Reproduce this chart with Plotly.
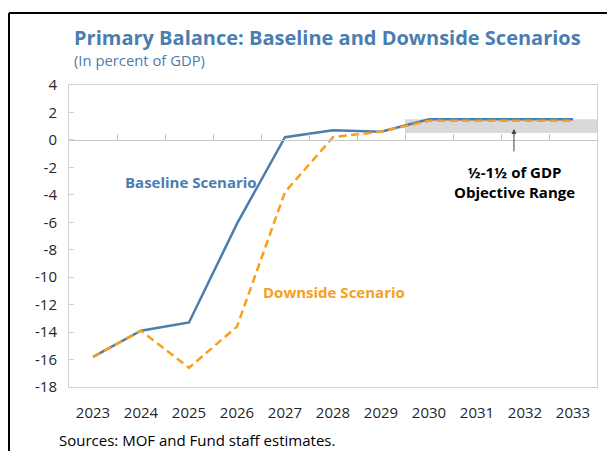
import plotly.graph_objects as go

# Fiscal years on the category axis
years = ["2023", "2024", "2025", "2026", "2027", "2028", "2029", "2030", "2031", "2032", "2033"]

# Primary balance, percent of GDP
baseline = [-15.8, -13.9, -13.3, -6.1, 0.2, 0.7, 0.6, 1.5, 1.5, 1.5, 1.5]
downside = [-15.8, -13.9, -16.6, -13.6, -3.8, 0.2, 0.6, 1.4, 1.4, 1.4, 1.4]

# Objective range (percent of GDP)
objective_low = 0.5
objective_high = 1.5

# Y axis ticks
y_ticks = [4, 2, 0, -2, -4, -6, -8, -10, -12, -14, -16, -18]

BLUE = "#4a7db0"
ORANGE = "#f7a01c"
FONT = "Open Sans"

W, H = 607, 451
ML, MR, MT, MB = 69, 10, 85, 64
PW, PH = W - ML - MR, H - MT - MB


def px(x):
    return (x - ML) / PW


def py(y):
    return (H - MB - y) / PH


fig = go.Figure()

fig.add_trace(go.Scatter(
    x=years, y=baseline, mode="lines", name="Baseline Scenario",
    line=dict(color=BLUE, width=2.5), showlegend=False, hoverinfo="skip",
))
fig.add_trace(go.Scatter(
    x=years, y=downside, mode="lines", name="Downside Scenario",
    line=dict(color=ORANGE, width=2.5, dash="8px,4.5px"), showlegend=False, hoverinfo="skip",
))
# invisible carrier for the tick axis drawn along zero
fig.add_trace(go.Scatter(
    x=[0], y=[0], xaxis="x2", mode="markers", marker=dict(opacity=0),
    showlegend=False, hoverinfo="skip",
))

# shaded objective band from 2030 onward
fig.add_shape(type="rect", xref="x", yref="y",
              x0=6.5, x1=10.5, y0=objective_low, y1=objective_high,
              fillcolor="#d9d9d9", line=dict(width=0), layer="below")

# outer frame
frame_x = px(9)
frame_y = py(13)
fig.add_shape(type="line", xref="paper", yref="paper",
              x0=frame_x, x1=px(W + 5), y0=frame_y, y1=frame_y,
              line=dict(color="black", width=2))
fig.add_shape(type="line", xref="paper", yref="paper",
              x0=frame_x, x1=frame_x, y0=frame_y, y1=py(H + 5),
              line=dict(color="black", width=2))

annotations = [
    dict(text="<b>Primary Balance: Baseline and Downside Scenarios</b>",
         x=px(72), y=py(37), xanchor="left", yanchor="middle",
         font=dict(family=FONT, size=20, color=BLUE)),
    dict(text="(In percent of GDP)",
         x=px(72), y=py(60), xanchor="left", yanchor="middle",
         font=dict(family=FONT, size=14.8, color=BLUE)),
    dict(text="<b>Baseline Scenario</b>",
         x=px(123), y=py(182), xanchor="left", yanchor="middle",
         font=dict(family=FONT, size=15, color=BLUE)),
    dict(text="<b>Downside Scenario</b>",
         x=px(261), y=py(292), xanchor="left", yanchor="middle",
         font=dict(family=FONT, size=15, color=ORANGE)),
    dict(text="<b>½-1½ of GDP<br>Objective Range</b>",
         x=px(514), y=py(182), xanchor="center", yanchor="middle",
         font=dict(family=FONT, size=15, color="black")),
    dict(text="Sources: MOF and Fund staff estimates.",
         x=px(57), y=py(440), xanchor="left", yanchor="middle",
         font=dict(family=FONT, size=15, color="black")),
]
for a in annotations:
    a.update(xref="paper", yref="paper", showarrow=False)

# arrow pointing at the objective band
annotations.append(dict(
    x=8.77, y=0.8, xref="x", yref="y",
    ax=8.77, ay=-0.95, axref="x", ayref="y",
    text="", showarrow=True, arrowhead=2, arrowsize=1, arrowwidth=1,
    arrowcolor="#404040",
))

fig.update_layout(
    width=W, height=H,
    margin=dict(l=ML, r=MR, t=MT, b=MB),
    paper_bgcolor="white", plot_bgcolor="white",
    font=dict(family=FONT, size=14, color="#262626"),
    annotations=annotations,
    xaxis=dict(
        type="category", range=[-0.5, 10.5],
        showgrid=False, zeroline=False,
        showline=True, linecolor="#d0d0d0", linewidth=1, mirror=True,
        ticks="", ticklabelstandoff=12,
        tickfont=dict(family=FONT, size=15, color="#262626"),
    ),
    xaxis2=dict(
        overlaying="x", anchor="free", position=18 / 22,
        range=[-0.5, 10.5], showgrid=False, zeroline=False,
        showline=True, linecolor="#c8c8c8", linewidth=1,
        ticks="inside", ticklen=6, tickcolor="#c8c8c8",
        tickvals=[i + 0.5 for i in range(10)], showticklabels=False,
    ),
    yaxis=dict(
        range=[-18, 4], tickvals=y_ticks, ticktext=[str(v) for v in y_ticks],
        showgrid=False, zeroline=False,
        showline=True, linecolor="#d0d0d0", linewidth=1, mirror=True,
        ticks="inside", ticklen=5, tickcolor="#d0d0d0",
        ticklabelstandoff=8,
        tickfont=dict(family=FONT, size=15, color="#262626"),
    ),
)

fig.write_html("out.html")
